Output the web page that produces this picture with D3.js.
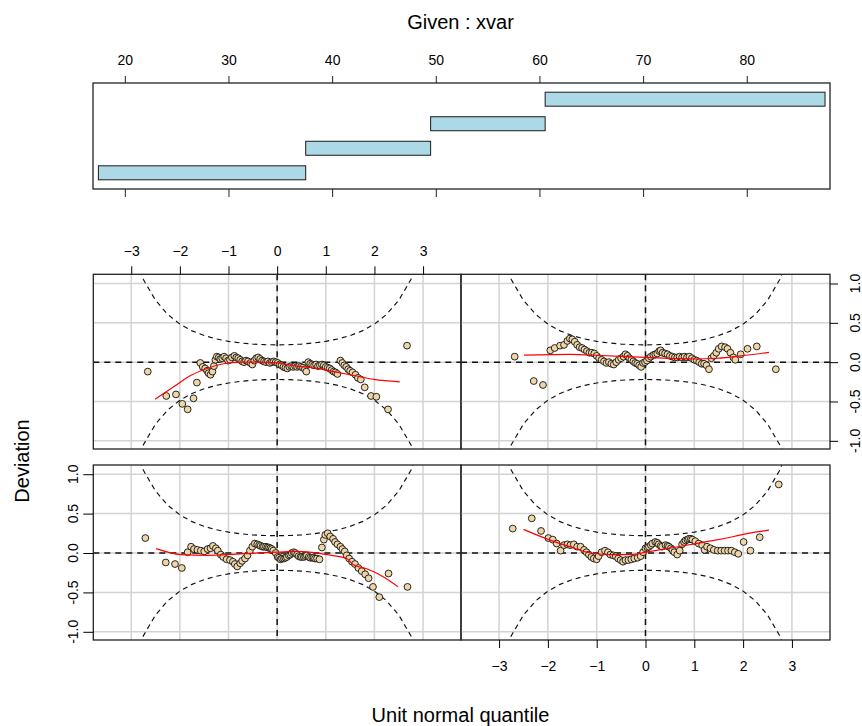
<!DOCTYPE html>
<html><head><meta charset="utf-8">
<script src="https://cdn.jsdelivr.net/npm/d3@7"></script>
<style>
body{margin:0;background:#fff}
svg{display:block}
text{font-family:"Liberation Sans",Arial,Helvetica,sans-serif;fill:#000}
</style>
</head><body>
<svg id="chart" width="862" height="726"></svg>
<script>
// ---------------- data ----------------
const givenTitle = "Given : xvar";
const xTitle = "Unit normal quantile";
const yTitle = "Deviation";
const givenTicks = [20, 30, 40, 50, 60, 70, 80];
const givenLo = [17.45, 37.45, 49.5, 60.55];
const givenHi = [37.45, 49.5, 60.55, 87.55];
const zTicks = [-3, -2, -1, 0, 1, 2, 3];
const devTicks = [-1, -0.5, 0, 0.5, 1];
const devTickLabels = ["-1.0", "-0.5", "0.0", "0.5", "1.0"];

// 95% reference band (half width) read along z
const bandZ = [-3.5,-3.25,-3,-2.75,-2.5,-2.25,-2,-1.75,-1.5,-1.25,-1,-0.75,-0.5,-0.25,0,0.25,0.5,0.75,1,1.25,1.5,1.75,2,2.25,2.5,2.75,3,3.25,3.5];
const bandHalf = [3.06,2.07,1.45,1.05,0.786,0.607,0.484,0.398,0.338,0.295,0.265,0.244,0.230,0.222,0.220,0.222,0.230,0.244,0.265,0.295,0.338,0.398,0.484,0.607,0.786,1.05,1.45,2.07,3.06];

// panel 1 (bottom-left)
const p1Points = [[-2.71,0.19],[-2.29,-0.12],[-2.10,-0.14],[-1.96,-0.19],[-1.84,0.01],[-1.77,0.08],[-1.71,0.05],[-1.64,0.04],[-1.57,0.03],[-1.50,0.02],[-1.43,0.05],[-1.37,0.06],[-1.32,0.09],[-1.26,0.06],[-1.22,0.03],[-1.16,-0.02],[-1.11,-0.05],[-1.04,-0.08],[-0.97,-0.09],[-0.91,-0.11],[-0.87,-0.14],[-0.82,-0.17],[-0.76,-0.13],[-0.72,-0.10],[-0.66,-0.07],[-0.61,-0.03],[-0.56,0.03],[-0.51,0.08],[-0.46,0.12],[-0.41,0.11],[-0.37,0.10],[-0.34,0.09],[-0.30,0.08],[-0.27,0.08],[-0.23,0.08],[-0.20,0.07],[-0.17,0.07],[-0.14,0.06],[-0.11,0.05],[-0.08,0.03],[-0.03,0.00],[0.01,-0.05],[0.04,-0.06],[0.07,-0.08],[0.10,-0.07],[0.14,-0.07],[0.17,-0.06],[0.20,-0.05],[0.24,-0.03],[0.27,-0.02],[0.30,0.00],[0.34,0.01],[0.37,0.00],[0.41,-0.02],[0.44,-0.04],[0.48,-0.05],[0.51,-0.05],[0.55,-0.05],[0.58,-0.04],[0.61,-0.03],[0.65,-0.05],[0.68,-0.06],[0.72,-0.06],[0.75,-0.06],[0.78,-0.07],[0.82,-0.07],[0.87,-0.08],[0.92,0.07],[0.96,0.17],[0.99,0.23],[1.04,0.25],[1.09,0.21],[1.15,0.18],[1.19,0.14],[1.24,0.11],[1.30,0.08],[1.34,0.05],[1.39,0.02],[1.43,-0.03],[1.48,-0.07],[1.54,-0.11],[1.60,-0.14],[1.67,-0.19],[1.74,-0.23],[1.81,-0.27],[1.88,-0.32],[1.97,-0.43],[2.10,-0.56],[2.29,-0.26],[2.68,-0.43]];
const p1FitZ = [-2.49,-1.98,-1.43,-0.75,0,0.41,1.02,1.43,1.57,1.84,2.18,2.49];
const p1FitDev = [0.055,-0.02,-0.03,-0.01,0.01,0.02,-0.02,-0.07,-0.15,-0.20,-0.30,-0.43];

// panel 2 (bottom-right)
const p2Points = [[-2.72,0.31],[-2.33,0.44],[-2.14,0.28],[-1.99,0.19],[-1.90,0.17],[-1.82,0.12],[-1.74,0.03],[-1.67,0.10],[-1.60,0.11],[-1.54,0.10],[-1.47,0.11],[-1.40,0.08],[-1.33,0.08],[-1.26,0.04],[-1.21,0.01],[-1.16,-0.02],[-1.11,-0.05],[-1.06,-0.07],[-1.00,-0.08],[-0.96,-0.04],[-0.90,0.01],[-0.83,0.03],[-0.77,0.01],[-0.72,-0.02],[-0.66,-0.03],[-0.61,-0.04],[-0.56,-0.07],[-0.51,-0.09],[-0.46,-0.11],[-0.41,-0.09],[-0.35,-0.09],[-0.29,-0.08],[-0.23,-0.07],[-0.16,-0.06],[-0.10,-0.04],[-0.05,0.01],[0.00,0.06],[0.04,0.07],[0.07,0.08],[0.11,0.10],[0.14,0.12],[0.20,0.14],[0.24,0.13],[0.27,0.11],[0.31,0.09],[0.34,0.08],[0.41,0.10],[0.45,0.09],[0.48,0.08],[0.52,0.06],[0.55,0.04],[0.59,0.01],[0.65,-0.02],[0.70,0.03],[0.75,0.11],[0.79,0.14],[0.82,0.16],[0.86,0.17],[0.89,0.18],[0.93,0.18],[0.96,0.17],[1.02,0.15],[1.09,0.12],[1.16,0.10],[1.21,0.04],[1.26,0.08],[1.33,0.06],[1.40,0.04],[1.48,0.03],[1.55,0.03],[1.62,0.03],[1.69,0.03],[1.76,0.03],[1.83,0.01],[1.90,-0.01],[2.01,0.14],[2.15,0.03],[2.34,0.20],[2.73,0.87]];
const p2FitZ = [-2.50,-1.94,-1.60,-1.12,-0.65,-0.30,0.10,0.58,1.03,1.40,1.81,2.10,2.53];
const p2FitDev = [0.30,0.16,0.09,0.00,-0.02,-0.02,0.02,0.07,0.12,0.16,0.21,0.25,0.29];

// panel 3 (top-left)
const p3Points = [[-2.66,-0.12],[-2.28,-0.43],[-2.08,-0.41],[-1.95,-0.53],[-1.84,-0.60],[-1.72,-0.46],[-1.65,-0.26],[-1.58,-0.01],[-1.53,-0.06],[-1.48,-0.08],[-1.44,-0.11],[-1.41,-0.14],[-1.37,-0.16],[-1.33,-0.12],[-1.30,-0.05],[-1.27,0.03],[-1.24,0.07],[-1.20,0.06],[-1.17,0.04],[-1.13,0.05],[-1.09,0.07],[-1.05,0.05],[-1.01,0.02],[-0.97,0.03],[-0.93,0.06],[-0.88,0.08],[-0.84,0.06],[-0.80,0.05],[-0.76,0.03],[-0.72,0.01],[-0.68,0.00],[-0.64,0.02],[-0.60,0.01],[-0.55,-0.01],[-0.51,-0.03],[-0.47,0.02],[-0.43,0.05],[-0.39,0.06],[-0.35,0.04],[-0.31,0.02],[-0.27,0.01],[-0.23,0.00],[-0.19,0.01],[-0.15,-0.01],[-0.11,0.00],[-0.07,0.01],[-0.03,0.00],[0.01,-0.01],[0.05,-0.03],[0.09,-0.04],[0.13,-0.06],[0.17,-0.07],[0.21,-0.08],[0.25,-0.06],[0.29,-0.05],[0.33,-0.06],[0.37,-0.05],[0.41,-0.06],[0.45,-0.05],[0.49,-0.06],[0.53,-0.07],[0.57,-0.09],[0.60,-0.12],[0.64,0.00],[0.68,-0.02],[0.72,-0.03],[0.76,-0.04],[0.80,-0.03],[0.84,-0.05],[0.88,-0.04],[0.92,-0.03],[0.96,-0.04],[1.00,-0.06],[1.04,-0.07],[1.08,-0.08],[1.12,-0.10],[1.16,-0.12],[1.20,-0.13],[1.24,-0.15],[1.30,0.02],[1.34,-0.01],[1.38,-0.04],[1.42,-0.06],[1.46,-0.09],[1.50,-0.11],[1.55,-0.13],[1.61,-0.16],[1.66,-0.20],[1.72,-0.22],[1.80,-0.32],[1.93,-0.43],[2.04,-0.44],[2.28,-0.60],[2.67,0.21]];
const p3FitZ = [-2.51,-2.12,-1.78,-1.44,-1.10,-0.75,-0.41,0,0.41,0.82,1.16,1.58,1.99,2.52];
const p3FitDev = [-0.47,-0.31,-0.17,-0.08,-0.02,0.00,0.00,-0.01,-0.05,-0.08,-0.12,-0.17,-0.22,-0.25];

// panel 4 (top-right)
const p4Points = [[-2.68,0.07],[-2.29,-0.24],[-2.10,-0.29],[-1.95,0.15],[-1.86,0.18],[-1.75,0.21],[-1.67,0.22],[-1.60,0.27],[-1.55,0.30],[-1.50,0.29],[-1.45,0.26],[-1.40,0.22],[-1.35,0.19],[-1.30,0.18],[-1.25,0.16],[-1.20,0.14],[-1.15,0.12],[-1.10,0.12],[-1.05,0.11],[-1.00,0.08],[-0.95,0.05],[-0.90,0.03],[-0.85,0.01],[-0.80,-0.01],[-0.75,0.00],[-0.70,-0.02],[-0.65,-0.03],[-0.60,0.00],[-0.55,0.03],[-0.50,0.05],[-0.45,0.07],[-0.41,0.10],[-0.37,0.08],[-0.33,0.05],[-0.29,0.03],[-0.25,0.01],[-0.21,-0.01],[-0.17,-0.02],[-0.13,-0.04],[-0.09,-0.06],[-0.05,-0.01],[-0.01,0.00],[0.03,0.02],[0.07,0.05],[0.11,0.07],[0.16,0.09],[0.20,0.10],[0.24,0.11],[0.28,0.14],[0.31,0.15],[0.35,0.12],[0.40,0.11],[0.45,0.10],[0.50,0.08],[0.55,0.07],[0.60,0.06],[0.65,0.06],[0.70,0.07],[0.75,0.06],[0.80,0.07],[0.85,0.06],[0.90,0.07],[0.95,0.05],[1.00,0.03],[1.05,0.02],[1.10,0.00],[1.15,-0.02],[1.20,-0.02],[1.25,-0.04],[1.30,-0.09],[1.35,0.05],[1.40,0.08],[1.45,0.12],[1.50,0.17],[1.56,0.20],[1.63,0.19],[1.68,0.17],[1.74,0.12],[1.80,0.06],[1.84,0.03],[1.95,0.10],[2.09,0.17],[2.28,0.20],[2.67,-0.09]];
const p4FitZ = [-2.49,-1.54,-0.92,0,1.02,1.47,1.95,2.53];
const p4FitDev = [0.09,0.10,0.085,0.06,0.04,0.05,0.08,0.125];

// ---------------- layout ----------------
const svg = d3.select("#chart");
svg.append("rect").attr("width",862).attr("height",726).attr("fill","#fff");

const zDomain = [-3.78, 3.78];
const devDomain = [-1.104, 1.117];
const cols = [[93.3, 461], [461, 830]];
const rows = [[449, 274.3], [640, 465]]; // top row, bottom row

const panels = [
  {pts: p1Points, fz: p1FitZ, fd: p1FitDev, col: 0, row: 1},
  {pts: p2Points, fz: p2FitZ, fd: p2FitDev, col: 1, row: 1},
  {pts: p3Points, fz: p3FitZ, fd: p3FitDev, col: 0, row: 0},
  {pts: p4Points, fz: p4FitZ, fd: p4FitDev, col: 1, row: 0}
];

const tickFont = "14px";

// ---------------- given panel ----------------
const gx = d3.scaleLinear().domain([16.93, 88.03]).range([93, 830]);
const gy = d3.scaleLinear().domain([0.34, 4.66]).range([189, 83]);
const gG = svg.append("g");
gG.selectAll("rect.bar").data(givenLo).join("rect")
  .attr("x", (d,i) => gx(d))
  .attr("width", (d,i) => gx(givenHi[i]) - gx(d))
  .attr("y", (d,i) => gy(i + 1 + 0.285))
  .attr("height", (d,i) => gy(i + 1 - 0.285) - gy(i + 1 + 0.285))
  .attr("fill", "#ADD8E6").attr("stroke", "#1a1a1a").attr("stroke-width", 1);
gG.append("rect").attr("x", gx.range()[0]).attr("y", gy.range()[1])
  .attr("width", gx.range()[1]-gx.range()[0]).attr("height", gy.range()[0]-gy.range()[1])
  .attr("fill","none").attr("stroke","#222").attr("stroke-width",1.3);
const gTop = gG.append("g").attr("transform", `translate(0,${gy.range()[1]})`)
  .call(d3.axisTop(gx).tickValues(givenTicks).tickSize(7).tickPadding(11).tickFormat(d3.format("d")));
const gBot = gG.append("g").attr("transform", `translate(0,${gy.range()[0]})`)
  .call(d3.axisBottom(gx).tickValues(givenTicks).tickSize(8).tickFormat(""));
[gTop, gBot].forEach(a => {
  a.select(".domain").remove();
  a.selectAll("line").attr("stroke","#222");
  a.selectAll("text").attr("font-size", tickFont).attr("font-family", "Liberation Sans, Arial, sans-serif").attr("fill","#000");
});
svg.append("text").attr("x", 460.5).attr("y", 29).attr("text-anchor","middle")
  .attr("font-size","20px").text(givenTitle);

// ---------------- dependence panels ----------------
const defs = svg.append("defs");
panels.forEach((p, k) => {
  const x = d3.scaleLinear().domain(zDomain).range(cols[p.col]);
  const y = d3.scaleLinear().domain(devDomain).range(rows[p.row]);
  const x0 = x.range()[0], x1 = x.range()[1], y0 = y.range()[1], y1 = y.range()[0];
  defs.append("clipPath").attr("id", "clip"+k).append("rect")
    .attr("x", x0).attr("y", y0).attr("width", x1-x0).attr("height", y1-y0);
  const g = svg.append("g");
  const inner = g.append("g").attr("clip-path", `url(#clip${k})`);
  // grid
  inner.selectAll("line.gv").data(zTicks).join("line")
    .attr("x1", d => x(d)).attr("x2", d => x(d)).attr("y1", y0).attr("y2", y1)
    .attr("stroke", "#d3d3d3").attr("stroke-width", 1.5);
  inner.selectAll("line.gh").data(devTicks).join("line")
    .attr("y1", d => y(d)).attr("y2", d => y(d)).attr("x1", x0).attr("x2", x1)
    .attr("stroke", "#d3d3d3").attr("stroke-width", 1.5);
  // zero lines
  inner.append("line").attr("x1", x0).attr("x2", x1).attr("y1", y(0)).attr("y2", y(0))
    .attr("stroke", "#111").attr("stroke-width", 1.5).attr("stroke-dasharray", "6,5");
  inner.append("line").attr("x1", x(0)).attr("x2", x(0)).attr("y1", y0).attr("y2", y1)
    .attr("stroke", "#111").attr("stroke-width", 1.5).attr("stroke-dasharray", "6,5");
  // reference bands
  const bandLine = d3.line().x((d,i) => x(bandZ[i]));
  inner.append("path").datum(bandHalf)
    .attr("d", bandLine.y(d => y(d)))
    .attr("fill","none").attr("stroke","#111").attr("stroke-width",1.15).attr("stroke-dasharray","5,4");
  inner.append("path").datum(bandHalf)
    .attr("d", bandLine.y(d => y(-d)))
    .attr("fill","none").attr("stroke","#111").attr("stroke-width",1.15).attr("stroke-dasharray","5,4");
  // points
  g.selectAll("circle").data(p.pts).join("circle")
    .attr("cx", d => x(d[0])).attr("cy", d => y(d[1])).attr("r", 3.4)
    .attr("fill", "#EED6A8").attr("stroke", "#111").attr("stroke-width", 0.9);
  // fitted curve
  g.append("path").datum(p.fz)
    .attr("d", d3.line().curve(d3.curveMonotoneX).x(d => x(d)).y((d,i) => y(p.fd[i])))
    .attr("fill","none").attr("stroke","#ff0000").attr("stroke-width",1.2);
  // border
  g.append("rect").attr("x", x0).attr("y", y0).attr("width", x1-x0).attr("height", y1-y0)
    .attr("fill","none").attr("stroke","#222").attr("stroke-width",1.3);

  // axes
  if (p.row === 0 && p.col === 0) {
    const a = g.append("g").attr("transform", `translate(0,${y0})`)
      .call(d3.axisTop(x).tickValues(zTicks).tickSize(8).tickPadding(10).tickFormat(d3.format("d")));
    a.select(".domain").remove();
    a.selectAll("text").attr("font-size", tickFont).attr("font-family","Liberation Sans, Arial, sans-serif").attr("fill","#000");
  }
  if (p.row === 1 && p.col === 1) {
    const a = g.append("g").attr("transform", `translate(0,${y1})`)
      .call(d3.axisBottom(x).tickValues(zTicks).tickSize(8).tickPadding(13).tickFormat(d3.format("d")));
    a.select(".domain").remove();
    a.selectAll("text").attr("font-size", tickFont).attr("font-family","Liberation Sans, Arial, sans-serif").attr("fill","#000");
  }
  if (p.row === 1 && p.col === 0) {
    const a = g.append("g").attr("transform", `translate(${x0},0)`)
      .call(d3.axisLeft(y).tickValues(devTicks).tickSize(10).tickFormat(""));
    a.select(".domain").remove();
    g.selectAll("text.yl").data(devTicks).join("text")
      .attr("transform", d => `translate(78,${y(d)}) rotate(-90)`)
      .attr("text-anchor","middle").attr("font-size", tickFont)
      .text((d,i) => devTickLabels[i]);
  }
  if (p.row === 0 && p.col === 1) {
    const a = g.append("g").attr("transform", `translate(${x1},0)`)
      .call(d3.axisRight(y).tickValues(devTicks).tickSize(8).tickFormat(""));
    a.select(".domain").remove();
    g.selectAll("text.yr").data(devTicks).join("text")
      .attr("transform", d => `translate(860,${y(d)}) rotate(-90)`)
      .attr("text-anchor","middle").attr("font-size", tickFont)
      .text((d,i) => devTickLabels[i]);
  }
});

svg.append("text").attr("x", 460.5).attr("y", 722).attr("text-anchor","middle")
  .attr("font-size","20px").text(xTitle);
svg.append("text").attr("transform","translate(29,461) rotate(-90)").attr("text-anchor","middle")
  .attr("font-size","20px").text(yTitle);
</script>
</body></html>
